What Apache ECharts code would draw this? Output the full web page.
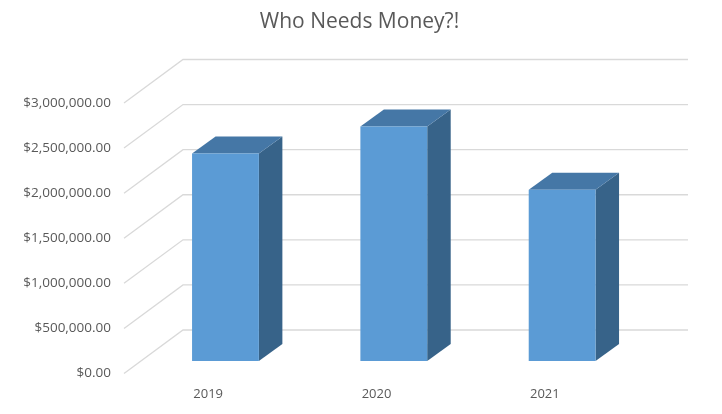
<!DOCTYPE html>
<html><head><meta charset="utf-8">
<style>html,body{margin:0;padding:0;background:#fff}#c{width:722px;height:414px}</style>
<script src="https://cdn.jsdelivr.net/npm/echarts@6/dist/echarts.min.js"></script>
</head><body><div id="c"></div>
<script>
var categories = ['2019', '2020', '2021'];
var amounts = [2300000, 2600000, 1900000];
var gridTicks = [0, 500000, 1000000, 1500000, 2000000, 2500000, 3000000];
var titleText = 'Who Needs Money?!';

var DEPTH = [59, -43.5];      // wall offset of the 3D box
var BAR_NEAR = [17.3, -12.5]; // front face of bars
var BAR_FAR = [40.8, -29.5];  // back face of bars
var FONT = '"Open Sans", "Noto Sans", sans-serif';

var chart = echarts.init(document.getElementById('c'), null, {renderer: 'canvas'});
chart.setOption({
  animation: false,
  backgroundColor: '#fff',
  title: {
    text: titleText, left: 354.5, top: 7, textAlign: 'center',
    textStyle: {color: '#595959', fontSize: 21, fontWeight: 'normal', fontFamily: FONT}
  },
  grid: {left: 124, right: 93, top: 103, bottom: 40.5, containLabel: false},
  xAxis: {
    type: 'category', data: categories,
    axisLine: {show: false}, axisTick: {show: false}, splitLine: {show: false},
    axisLabel: {color: '#595959', fontSize: 13, fontFamily: FONT, margin: 14}
  },
  yAxis: {
    type: 'value', min: 0, max: 3000000, interval: 500000,
    axisLine: {show: false}, axisTick: {show: false}, splitLine: {show: false},
    axisLabel: {
      color: '#595959', fontSize: 13.5, fontFamily: FONT, margin: 13,
      formatter: function (v) {
        return '$' + v.toLocaleString('en-US', {minimumFractionDigits: 2, maximumFractionDigits: 2});
      }
    }
  },
  series: [
    {
      type: 'custom', coordinateSystem: 'cartesian2d', silent: true, z: 1,
      encode: {x: -1, y: 0},
      data: gridTicks,
      renderItem: function (params, api) {
        var v = api.value(0);
        var p = api.coord([0, v]);
        var left = params.coordSys.x;
        var right = left + params.coordSys.width;
        var y = p[1];
        var style = {stroke: '#d9d9d9', lineWidth: 1.3, fill: null};
        return {type: 'group', children: [
          {type: 'polyline', shape: {points: [
            [left, y],
            [left + DEPTH[0], y + DEPTH[1]],
            [right + DEPTH[0], y + DEPTH[1]]
          ]}, style: style}
        ]};
      }
    },
    {
      type: 'custom', coordinateSystem: 'cartesian2d', silent: true, z: 2,
      encode: {x: 0, y: 1},
      data: categories.map(function (c, i) { return [i, amounts[i]]; }),
      renderItem: function (params, api) {
        var i = api.value(0), v = api.value(1);
        var top = api.coord([i, v]);
        var base = api.coord([i, 0]);
        var w = api.size([1, 0])[0] * 0.397;
        var x0 = top[0] - w / 2, x1 = top[0] + w / 2;
        var n = BAR_NEAR, f = BAR_FAR;
        function pt(x, y, o) { return [x + o[0], y + o[1]]; }
        return {type: 'group', children: [
          {type: 'polygon', shape: {points: [pt(x1, top[1], n), pt(x1, top[1], f), pt(x1, base[1], f), pt(x1, base[1], n)]},
            style: {fill: '#376389'}},
          {type: 'polygon', shape: {points: [pt(x0, top[1], n), pt(x0, top[1], f), pt(x1, top[1], f), pt(x1, top[1], n)]},
            style: {fill: '#4577A6'}},
          {type: 'polygon', shape: {points: [pt(x0, top[1], n), pt(x1, top[1], n), pt(x1, base[1], n), pt(x0, base[1], n)]},
            style: {fill: '#5B9BD5'}}
        ]};
      }
    }
  ]
});
</script></body></html>
